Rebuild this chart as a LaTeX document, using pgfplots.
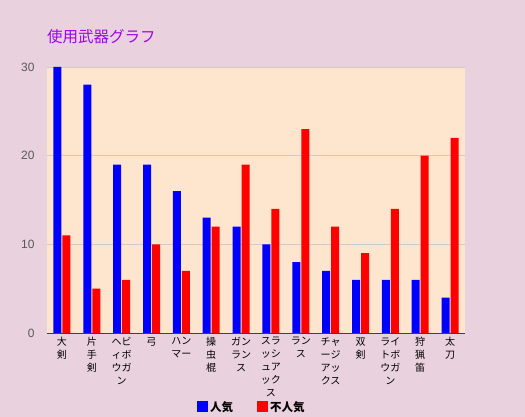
\documentclass[border=0pt]{standalone}
\usepackage{pgfplots}
\pgfplotsset{compat=1.18}
\usepackage{fontspec}
\setmainfont{Liberation Sans}
\newfontfamily\cjk{Noto Sans CJK JP}
\definecolor{pagebg}{RGB}{233,209,221}
\definecolor{plotbg}{RGB}{254,230,206}
\definecolor{titlec}{RGB}{160,0,240}
\begin{document}
\begin{tikzpicture}
\fill[pagebg] (0,0) rectangle (525pt,417pt);
\useasboundingbox (0,0) rectangle (525pt,417pt);
\node[anchor=base west, text=titlec, font=\cjk\fontsize{15.5}{18}\selectfont, inner sep=0pt] at (47pt,374pt) {使用武器グラフ};
\begin{axis}[
  at={(47pt,84pt)}, anchor=south west,
  scale only axis, width=418pt, height=266pt,
  axis background/.style={fill=plotbg},
  ybar=1pt, bar width=8pt,
  xmin=-0.5, xmax=13.5, ymin=0, ymax=30,
  ytick={0,10,20,30},
  xtick={0,...,13},
  xticklabels={大\\剣,片\\手\\剣,ヘビ\\ィボ\\ウガ\\ン,弓,ハン\\マー,操\\虫\\棍,ガン\\ラン\\ス,スラ\\ッシ\\ュア\\ック\\ス,ラン\\ス,チャ\\ージ\\アッ\\クス,双\\剣,ライ\\トボ\\ウガ\\ン,狩\\猟\\笛,太\\刀},
  x tick label style={font=\cjk\fontsize{10}{13}\selectfont, align=center, anchor=north, yshift=-1pt},
  y tick label style={font=\fontsize{12}{14}\selectfont, text=black!65},
  /pgf/number format/assume math mode=true,
  major tick length=0pt,
  ymajorgrids, grid style={draw=black!20, line width=0.8pt},
  axis lines*=left, axis line style={-},
  y axis line style={draw=none},
  x axis line style={draw=black!75, line width=0.8pt},
  yticklabel style={xshift=-9pt},
  legend style={at={(0.49,-0.278)}, anchor=center, draw=none, fill=none, legend columns=2, font=\cjk\bfseries\fontsize{11.5}{13}\selectfont, /tikz/every even column/.append style={column sep=22pt}},
  legend image code/.code={\fill[#1] (0pt,-5.5pt) rectangle (11pt,5.5pt);},
]
\addplot[fill=blue, draw=none] coordinates {(0,30) (1,28) (2,19) (3,19) (4,16) (5,13) (6,12) (7,10) (8,8) (9,7) (10,6) (11,6) (12,6) (13,4)};
\addplot[fill=red, draw=none] coordinates {(0,11) (1,5) (2,6) (3,10) (4,7) (5,12) (6,19) (7,14) (8,23) (9,12) (10,9) (11,14) (12,20) (13,22)};
\legend{人気,不人気}
\end{axis}
\end{tikzpicture}
\end{document}
